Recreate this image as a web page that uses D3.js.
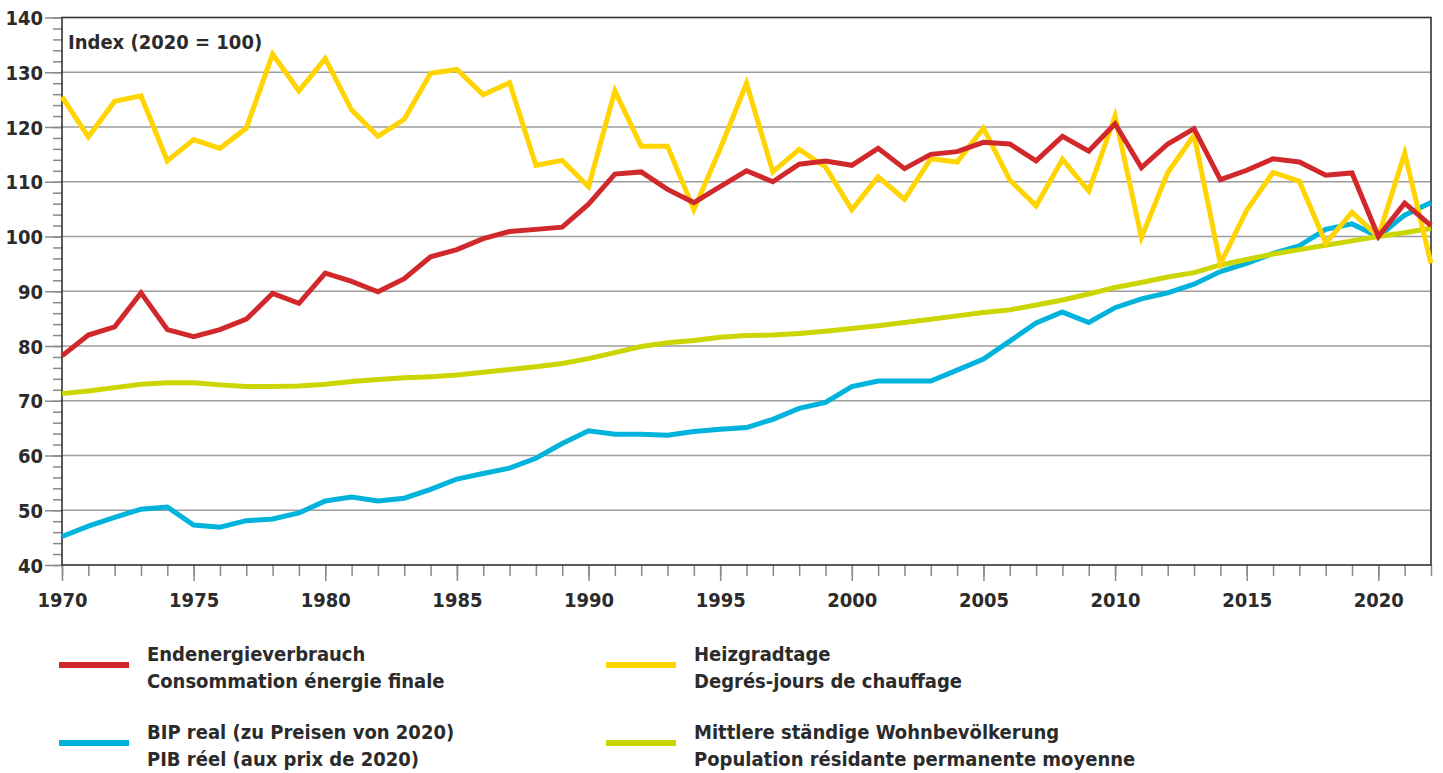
<!DOCTYPE html>
<html>
<head>
<meta charset="utf-8">
<script src="https://cdn.jsdelivr.net/npm/d3@7"></script>
<style>
  html, body { margin: 0; padding: 0; background: #fff; }
  svg text {
    font-family: "Liberation Sans Narrow", "DejaVu Sans Condensed", "Roboto", sans-serif;
    font-weight: bold;
    fill: #2b2b2b;
  }
</style>
</head>
<body>
<svg id="chart" width="1443" height="773"></svg>
<script>
// Index values, 2020 = 100, one per year 1970–2022
const years = d3.range(1970, 2023);

const endenergie = [
  78.2, 82.0, 83.5, 89.7, 83.0, 81.7, 83.0, 84.9, 89.6, 87.8,
  93.3, 91.8, 89.9, 92.3, 96.3, 97.6, 99.6, 100.9, 101.3, 101.7,
  105.9, 111.4, 111.8, 108.6, 106.2, 109.1, 112.0, 110.0, 113.2, 113.8,
  113.0, 116.1, 112.4, 115.0, 115.5, 117.2, 116.9, 113.8, 118.3, 115.6,
  120.6, 112.6, 116.9, 119.7, 110.4, 112.1, 114.2, 113.6, 111.2, 111.6,
  100.0, 106.1, 102.0
];

const heizgradtage = [
  125.5, 118.2, 124.7, 125.7, 113.8, 117.7, 116.1, 119.8, 133.3, 126.6,
  132.5, 123.1, 118.3, 121.4, 129.8, 130.5, 125.9, 128.1, 113.0, 113.9,
  109.1, 126.6, 116.5, 116.5, 104.9, 116.0, 128.0, 111.8, 115.9, 112.7,
  104.9, 110.9, 106.8, 114.2, 113.6, 119.8, 110.3, 105.6, 114.1, 108.3,
  122.0, 99.8, 111.7, 118.5, 95.0, 104.8, 111.7, 110.1, 98.8, 104.4,
  100.0, 115.2, 95.1
];

const bipReal = [
  45.2, 47.1, 48.7, 50.2, 50.6, 47.3, 46.9, 48.1, 48.4, 49.5,
  51.7, 52.4, 51.7, 52.2, 53.8, 55.7, 56.7, 57.7, 59.5, 62.2,
  64.5, 63.9, 63.9, 63.7, 64.4, 64.8, 65.1, 66.6, 68.6, 69.7,
  72.6, 73.6, 73.6, 73.6, 75.6, 77.6, 80.9, 84.2, 86.2, 84.3,
  87.0, 88.6, 89.7, 91.3, 93.6, 95.1, 96.9, 98.3, 101.3, 102.3,
  100.0, 103.9, 106.2
];

const bevoelkerung = [
  71.3, 71.8, 72.4, 73.0, 73.3, 73.3, 72.9, 72.6, 72.6, 72.7,
  73.0, 73.5, 73.9, 74.2, 74.4, 74.7, 75.2, 75.7, 76.2, 76.8,
  77.7, 78.8, 79.9, 80.6, 81.0, 81.6, 81.9, 82.0, 82.3, 82.7,
  83.2, 83.7, 84.3, 84.9, 85.5, 86.1, 86.6, 87.5, 88.4, 89.5,
  90.7, 91.6, 92.6, 93.4, 94.8, 95.8, 96.8, 97.6, 98.4, 99.2,
  100.0, 100.7, 101.5
];

const yMajorTicks = d3.range(40, 141, 10);
const yMinorTicks = d3.range(40, 141, 2);
const xMajorTicks = d3.range(1970, 2021, 5);

const unitLabel = "Index (2020 = 100)";

const series = [
  { key: "bip", values: bipReal, color: "#00b3dd",
    label: ["BIP real (zu Preisen von 2020)", "PIB réel (aux prix de 2020)"] },
  { key: "bev", values: bevoelkerung, color: "#cbd500",
    label: ["Mittlere ständige Wohnbevölkerung", "Population résidante permanente moyenne"] },
  { key: "hgt", values: heizgradtage, color: "#ffd400",
    label: ["Heizgradtage", "Degrés-jours de chauffage"] },
  { key: "eev", values: endenergie, color: "#d1282c",
    label: ["Endenergieverbrauch", "Consommation énergie finale"] }
];

// legend arrangement: two columns, two rows
const legendOrder = [
  { key: "eev", col: 0, row: 0 },
  { key: "hgt", col: 1, row: 0 },
  { key: "bip", col: 0, row: 1 },
  { key: "bev", col: 1, row: 1 }
];

const svg = d3.select("#chart");
const plotLeft = 62, plotRight = 1431, plotTop = 17.5, plotBottom = 565;

const x = d3.scaleLinear().domain([1970, 2022]).range([plotLeft, plotRight]);
const y = d3.scaleLinear().domain([40, 140]).range([plotBottom, plotTop]);

// horizontal grid
svg.append("g")
  .selectAll("line")
  .data(yMajorTicks.filter(v => v > 40 && v < 140))
  .join("line")
  .attr("x1", plotLeft).attr("x2", plotRight)
  .attr("y1", d => y(d)).attr("y2", d => y(d))
  .attr("stroke", "#9d9d9d").attr("stroke-width", 1.6);

// y axis: minor and major ticks
const yMinor = svg.append("g").attr("transform", `translate(${plotLeft},0)`)
  .call(d3.axisLeft(y).tickValues(yMinorTicks).tickSize(9).tickFormat(""));
const yMajor = svg.append("g").attr("transform", `translate(${plotLeft},0)`)
  .call(d3.axisLeft(y).tickValues(yMajorTicks).tickSize(17).tickPadding(2).tickFormat(d3.format("d")));

// x axis: yearly minor ticks, five-year major ticks with labels
const xMinor = svg.append("g").attr("transform", `translate(0,${plotBottom})`)
  .call(d3.axisBottom(x).tickValues(years).tickSize(11).tickFormat(""));
const xMajor = svg.append("g").attr("transform", `translate(0,${plotBottom})`)
  .call(d3.axisBottom(x).tickValues(xMajorTicks).tickSize(16).tickFormat(d3.format("d")));

[yMinor, yMajor, xMinor, xMajor].forEach(g => {
  g.select(".domain").remove();
  g.selectAll(".tick line").attr("stroke", "#8a8a8a").attr("stroke-width", 1.5);
});
yMajor.selectAll(".tick text")
  .attr("font-size", 20).attr("dy", "0.36em").attr("fill", "#2b2b2b");
xMajor.selectAll(".tick text")
  .attr("font-size", 20).attr("y", 42).attr("dy", 0).attr("fill", "#2b2b2b");

// frame
svg.append("rect")
  .attr("x", plotLeft).attr("y", plotTop)
  .attr("width", plotRight - plotLeft).attr("height", plotBottom - plotTop)
  .attr("fill", "none").attr("stroke", "#333").attr("stroke-width", 1.6);

// unit label
svg.append("text")
  .attr("x", 68).attr("y", 49)
  .attr("font-size", 20)
  .text(unitLabel);

// series lines
const line = d3.line()
  .x((d, i) => x(years[i]))
  .y(d => y(d));

svg.append("g")
  .selectAll("path")
  .data(series)
  .join("path")
  .attr("d", d => line(d.values))
  .attr("fill", "none")
  .attr("stroke", d => d.color)
  .attr("stroke-width", 5)
  .attr("stroke-linejoin", "miter")
  .attr("stroke-miterlimit", 6);

// legend
const colX = [59, 606];
const rowY = [665, 743];
const legend = svg.append("g");
legendOrder.forEach(o => {
  const s = series.find(d => d.key === o.key);
  const g = legend.append("g");
  g.append("line")
    .attr("x1", colX[o.col]).attr("x2", colX[o.col] + 70)
    .attr("y1", rowY[o.row]).attr("y2", rowY[o.row])
    .attr("stroke", s.color).attr("stroke-width", 6);
  g.append("text")
    .attr("x", colX[o.col] + 88).attr("y", rowY[o.row] - 4)
    .attr("font-size", 20)
    .text(s.label[0]);
  g.append("text")
    .attr("x", colX[o.col] + 88).attr("y", rowY[o.row] + 23)
    .attr("font-size", 20)
    .text(s.label[1]);
});
</script>
</body>
</html>
